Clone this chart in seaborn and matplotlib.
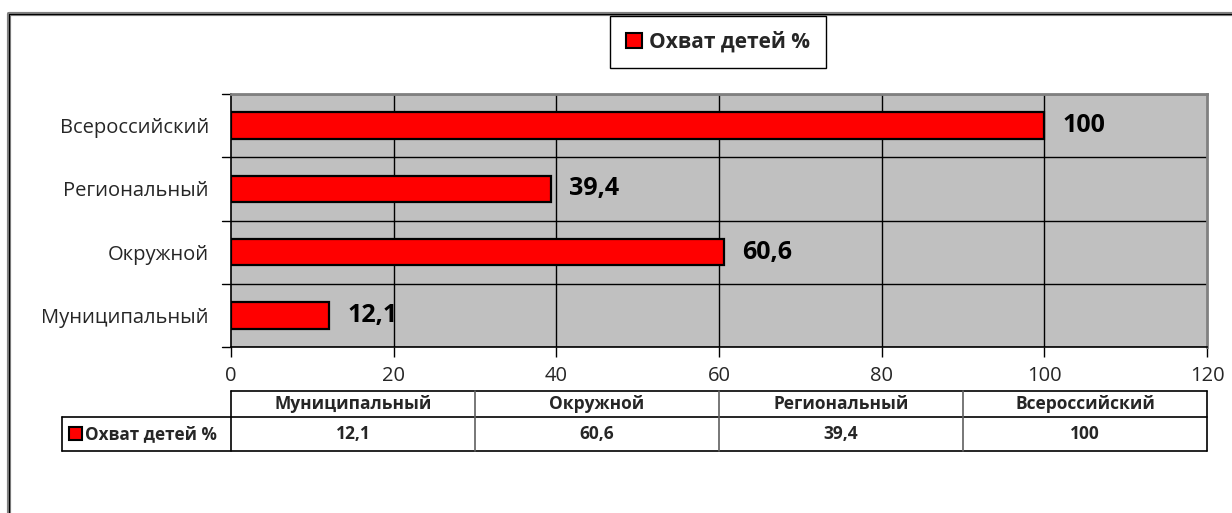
import numpy as np
import matplotlib
matplotlib.use('Agg')
import matplotlib.pyplot as plt
import matplotlib.patches as mpatches
from matplotlib.lines import Line2D
import seaborn as sns
import pandas as pd

categories = ['Муниципальный', 'Окружной', 'Региональный', 'Всероссийский']
values = [12.1, 60.6, 39.4, 100]
series_name = 'Охват детей %'
x_ticks = [0, 20, 40, 60, 80, 100, 120]

def fmt(v):
    return f'{v:g}'.replace('.', ',')

sns.set_theme(style='white')
plt.rcParams['font.family'] = ['Open Sans', 'DejaVu Sans']

W, H = 1232, 513
fig = plt.figure(figsize=(W / 100, H / 100), dpi=100)
fig.patch.set_facecolor('white')

def fx(px):
    return px / W

def fy(py):
    return 1 - py / H

# outer chart frame (only top and left edges are visible)
for lw, col in [(3, '#808080'), (0.8, 'black')]:
    fig.add_artist(Line2D([fx(9), 1], [fy(14), fy(14)], color=col, lw=lw, transform=fig.transFigure))
    fig.add_artist(Line2D([fx(9), fx(9)], [fy(14), 0], color=col, lw=lw, transform=fig.transFigure))

# main plot area
x0, x1, y0, y1 = 231, 1207, 94, 347
ax = fig.add_axes([fx(x0), fy(y1), fx(x1) - fx(x0), (y1 - y0) / H])
ax.set_facecolor('#c0c0c0')

df = pd.DataFrame({'cat': categories, 'val': values})
order = categories[::-1]
sns.barplot(data=df, x='val', y='cat', order=order, orient='h', color='#ff0000',
            saturation=1, width=0.42, edgecolor='black', linewidth=1.6, ax=ax, zorder=3)

ax.set_xlim(0, 120)
ax.set_ylim(len(order) - 0.5, -0.5)
ax.set_xticks(x_ticks)
ax.set_xticklabels([str(t) for t in x_ticks], fontsize=14.5)
ax.set_yticks(np.arange(len(order)))
ax.set_yticklabels(order, fontsize=14.5)
ax.tick_params(axis='y', length=0, pad=16)
ax.tick_params(axis='x', length=7, width=1, color='black', pad=7, direction='out', bottom=True)
ax.set_xlabel('')
ax.set_ylabel('')

# category boundary ticks and gridlines
for b in np.arange(-0.5, len(order), 1.0):
    ax.axhline(b, color='black', lw=1, zorder=2)
    ax.plot([-0.009, 0], [b, b], transform=ax.get_yaxis_transform(), color='black',
            lw=1, clip_on=False)
for t in x_ticks[1:-1]:
    ax.axvline(t, color='black', lw=1, zorder=2)

for s in ['top', 'right']:
    ax.spines[s].set_color('#808080')
    ax.spines[s].set_linewidth(2)
for s in ['left', 'bottom']:
    ax.spines[s].set_color('black')
    ax.spines[s].set_linewidth(1.2)
    ax.spines[s].set_visible(True)

for i, c in enumerate(order):
    v = values[categories.index(c)]
    ax.text(v + 2.2, i, fmt(v), va='center', ha='left', fontsize=18, fontweight='bold',
            color='black', zorder=4)

# legend
handle = mpatches.Patch(facecolor='#ff0000', edgecolor='black', linewidth=1.5)
leg = fig.legend([handle], [series_name], loc='center', bbox_to_anchor=(fx(718), fy(42)),
                 fancybox=False, framealpha=1, edgecolor='black', handlelength=0.75,
                 handleheight=0.75, handletextpad=0.35, borderpad=0.75,
                 prop={'weight': 'bold', 'size': 15})
leg.get_frame().set_linewidth(1)

# data table below the axis
tx0, tx1, ty0, ty1, ty2 = 62, 1207, 391, 417, 451
tax = fig.add_axes([fx(tx0), fy(ty2), fx(tx1) - fx(tx0), (ty2 - ty0) / H])
tax.set_xlim(tx0, tx1)
tax.set_ylim(ty2, ty0)
tax.axis('off')
edges = np.linspace(x0, x1, len(categories) + 1)
line_kw = dict(color='black', lw=1.2, clip_on=False)
tax.plot([x0, x1], [ty0, ty0], **line_kw)
tax.plot([tx0, x1], [ty1, ty1], **line_kw)
tax.plot([tx0, x1], [ty2, ty2], **line_kw)
tax.plot([tx0, tx0], [ty1, ty2], **line_kw)
for i, e in enumerate(edges):
    col = 'black' if i in (0, len(edges) - 1) else '#606060'
    tax.plot([e, e], [ty0, ty2], color=col, lw=1.2, clip_on=False)
for i, c in enumerate(categories):
    cx = (edges[i] + edges[i + 1]) / 2
    tax.text(cx, (ty0 + ty1) / 2, c, ha='center', va='center', fontsize=12.5, fontweight='bold')
    tax.text(cx, (ty1 + ty2) / 2, fmt(values[i]), ha='center', va='center', fontsize=12.5,
             fontweight='bold')
tax.add_patch(mpatches.Rectangle((69, 427), 13, 13, facecolor='#ff0000', edgecolor='black',
                                 lw=1.5, clip_on=False))
tax.text(85, (ty1 + ty2) / 2, series_name, ha='left', va='center', fontsize=12.3,
         fontweight='bold')

fig.savefig('out.png', dpi=100)
